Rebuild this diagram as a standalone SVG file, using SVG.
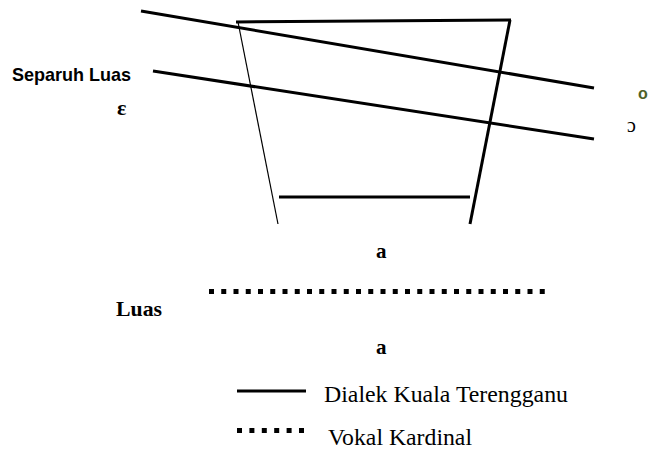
<svg xmlns="http://www.w3.org/2000/svg" width="651" height="450" viewBox="0 0 651 450">
<style>
.ln{stroke:#000;stroke-width:3;fill:none;stroke-linecap:butt}
.thin{stroke:#000;stroke-width:1.2;fill:none}
.dot{stroke:#000;stroke-width:5;fill:none;stroke-dasharray:5 7.25}
.sb{font-family:"Liberation Sans",Arial,sans-serif;font-weight:bold;fill:#000}
.tb{font-family:"Liberation Serif","Times New Roman",serif;font-weight:bold;fill:#000}
.t{font-family:"Liberation Serif","Times New Roman",serif;fill:#000}
</style>
<rect width="651" height="450" fill="#fff"/>
<g id="connectors">
<line class="ln" x1="141" y1="11" x2="594" y2="88"/>
<line class="ln" x1="153" y1="71" x2="594" y2="139"/>
<line class="ln" x1="236" y1="22" x2="511" y2="20"/>
<line class="thin" x1="238" y1="22" x2="278" y2="224"/>
<line class="ln" x1="510" y1="20" x2="470" y2="224"/>
<line class="ln" x1="279" y1="197" x2="470" y2="197"/>
<line class="dot" x1="209" y1="291.5" x2="546" y2="291.5"/>
</g>
<g id="label-separuh"><text class="sb" x="12" y="81" font-size="19" textLength="119" lengthAdjust="spacingAndGlyphs">Separuh Luas</text></g>
<g id="label-epsilon"><text class="tb" x="117" y="115" font-size="22">ε</text></g>
<g id="label-o"><text class="sb" x="638" y="99" font-size="16" style="fill:#4f6228">o</text></g>
<g id="label-open-o"><text class="t" x="627" y="132" font-size="20">ɔ</text></g>
<g id="label-a1"><text class="tb" x="376" y="258" font-size="21">a</text></g>
<g id="label-luas"><text class="tb" x="116" y="316" font-size="22" textLength="46" lengthAdjust="spacingAndGlyphs">Luas</text></g>
<g id="label-a2"><text class="tb" x="376" y="354" font-size="21">a</text></g>
<g id="legend">
<line class="ln" x1="237" y1="391" x2="306" y2="391"/>
<line class="dot" x1="237" y1="430.5" x2="304" y2="430.5" style="stroke-dasharray:5 7.4"/>
<text class="t" x="324" y="402" font-size="23" textLength="244" lengthAdjust="spacingAndGlyphs">Dialek Kuala Terengganu</text>
<text class="t" x="328" y="445" font-size="23" textLength="144" lengthAdjust="spacingAndGlyphs">Vokal Kardinal</text>
</g>
</svg>
